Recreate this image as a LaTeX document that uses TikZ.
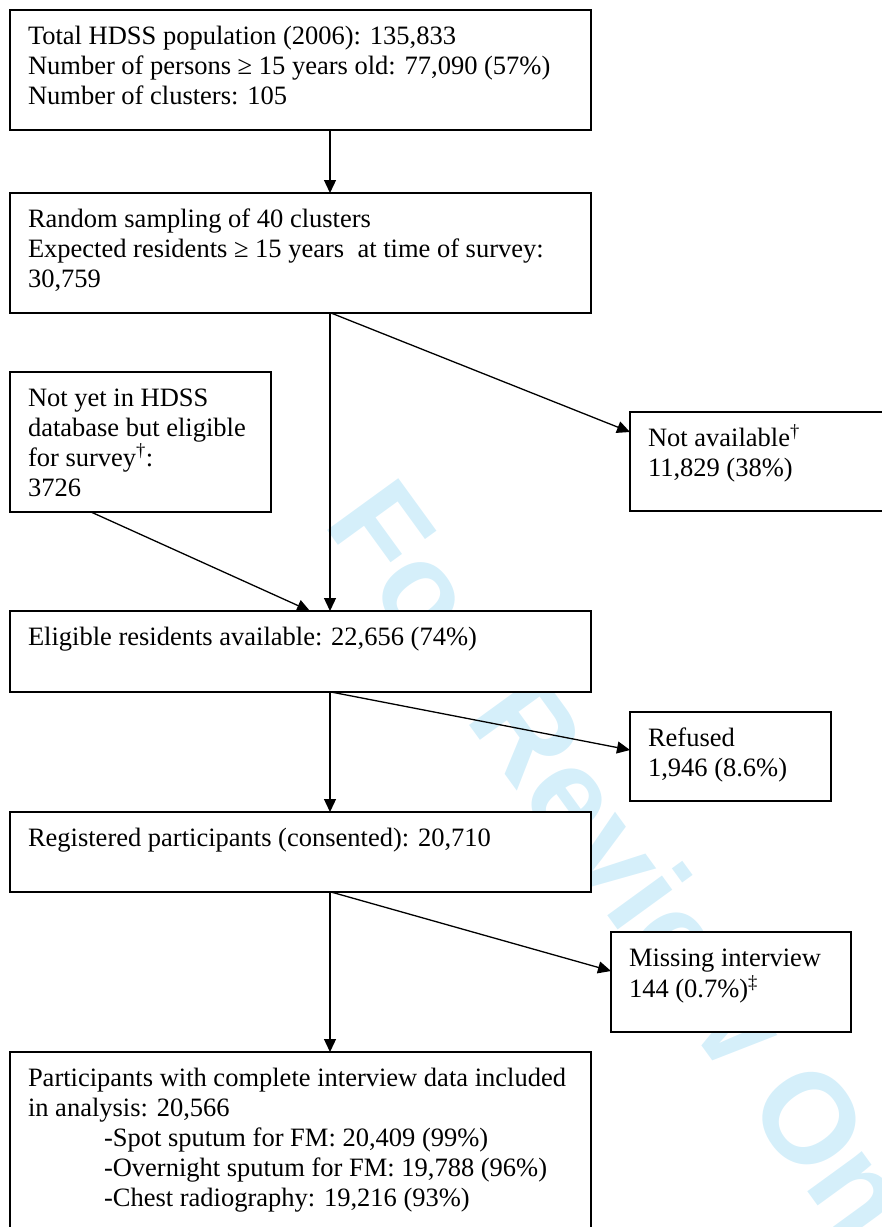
\documentclass[tikz,border=0pt]{standalone}
\usepackage{fontspec}
\setmainfont{Liberation Serif}
\newfontfamily\wmfont{Liberation Sans}
\usetikzlibrary{arrows.meta}
\definecolor{wmcol}{RGB}{213,239,250}
\newcommand\mybox[3]{\parbox[t][#2][t]{#1}{\raggedright\strut #3}}
\tikzset{
  box/.style={draw, line width=1.5pt, fill=white, anchor=north west,
    inner xsep=18pt, inner ysep=13pt, outer sep=0pt,
    font=\fontsize{26.5}{30}\selectfont},
  arr/.style={line width=1.3pt, -{Triangle[length=13pt,width=12pt]}},
  wm/.style={text=wmcol, font=\wmfont\bfseries\fontsize{128}{128}\selectfont,
    inner sep=0pt, anchor=base west}
}
\begin{document}
\begin{tikzpicture}[x=1pt,y=-1pt]
\useasboundingbox (0,0) rectangle (882,1227);
\node[wm, rotate=-54] (wmk) at (322,523) {For Review Only};

\node[box] (b1) at (10,10) {\mybox{545pt}{94pt}{Total HDSS population (2006): 135,833\\
Number of persons ≥ 15 years old: 77,090 (57\%)\\
Number of clusters: 105}};
\node[box] (b2) at (10,193) {\mybox{545pt}{94pt}{Random sampling of 40 clusters\\
Expected residents ≥ 15 years~ at time of survey:\\
30,759}};
\node[box] (nyet) at (10,372) {\mybox{225pt}{114pt}{Not yet in HDSS\\
database but eligible\\
for survey\textsuperscript{†}:\\
3726}};
\node[box] (nav) at (630,412) {\mybox{224pt}{73pt}{Not available\textsuperscript{†}\\
11,829 (38\%)}};
\node[box] (elig) at (10,611) {\mybox{545pt}{55pt}{Eligible residents available: 22,656 (74\%)}};
\node[box] (ref) at (630,712) {\mybox{165pt}{63pt}{Refused\\
1,946 (8.6\%)}};
\node[box] (reg) at (10,812) {\mybox{545pt}{54pt}{Registered participants (consented): 20,710}};
\node[box] (miss) at (611,932) {\mybox{204pt}{74pt}{Missing interview\\
144 (0.7\%)\textsuperscript{‡}}};
\node[box] (fin) at (10,1052) {\mybox{545pt}{164pt}{Participants with complete interview data included\\
in analysis: 20,566\\
\hspace*{76pt}-Spot sputum for FM: 20,409 (99\%)\\
\hspace*{76pt}-Overnight sputum for FM: 19,788 (96\%)\\
\hspace*{76pt}-Chest radiography: 19,216 (93\%)}};

\draw[arr] ([xshift=320pt]b1.south west) -- ([xshift=320pt]b2.north west);
\draw[arr] ([xshift=320pt]b2.south west) -- ([xshift=320pt]elig.north west);
\draw[arr] ([xshift=321pt]b2.south west) -- ([yshift=-20pt]nav.north west);
\draw[arr] ([xshift=81pt]nyet.south west) -- ([xshift=300pt]elig.north west);
\draw[arr] ([xshift=321pt]elig.south west) -- ([yshift=-38pt]ref.north west);
\draw[arr] ([xshift=320pt]elig.south west) -- ([xshift=320pt]reg.north west);
\draw[arr] ([xshift=321pt]reg.south west) -- ([yshift=-39pt]miss.north west);
\draw[arr] ([xshift=320pt]reg.south west) -- ([xshift=320pt]fin.north west);
\end{tikzpicture}
\end{document}
